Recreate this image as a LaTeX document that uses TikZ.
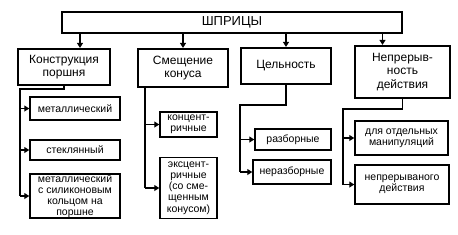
\documentclass[tikz,border=0pt]{standalone}
\usepackage{fontspec}
\setmainfont{Liberation Sans}
\usetikzlibrary{arrows.meta, positioning}

\begin{document}
\begin{tikzpicture}[
  x=1pt, y=-1pt,
  topb/.style={draw, line width=2.6pt, inner sep=0pt, minimum width=340pt, minimum height=21pt,
               font=\fontsize{13}{14}\selectfont},
  grpb/.style={draw, line width=2.2pt, align=center, inner sep=0pt,
               font=\fontsize{12}{13.5}\selectfont},
  itemb/.style={draw, line width=1.5pt, align=center, inner sep=0pt,
                font=\fontsize{10.5}{11.2}\selectfont},
  ln/.style={line width=1.1pt},
  arr/.style={-{Triangle[length=5pt, width=6pt]}, line width=1.1pt},
]
\useasboundingbox (0,0) rectangle (458,234);

% ---- root ----
\node[topb] (root) at (232,22.5) {ШПРИЦЫ};

% ---- groups ----
\node[grpb, minimum width=92pt, minimum height=36pt] (kon)  at (64,67)    {Конструкция\\поршня};
\node[grpb, minimum width=90pt, minimum height=38pt] (smes) at (183,68)   {Смещение\\конуса};
\node[grpb, minimum width=90pt, minimum height=36pt] (cel)  at (286,66)   {Цельность};
\node[grpb, minimum width=95pt, minimum height=52pt] (nep)  at (402.5,72) {Непрерыв-\\ность\\действия};

\coordinate (konin) at ([xshift=16pt]kon.north);
\coordinate (nepin) at ([xshift=-20pt]nep.north);
\draw[arr] (konin |- root.south) -- (konin);
\draw[arr] (smes.north |- root.south) -- (smes.north);
\draw[arr] (cel.north |- root.south) -- (cel.north);
\draw[arr] (nepin |- root.south) -- (nepin);

% ---- piston ----
\node[itemb, minimum width=90pt, minimum height=23pt] (met)  at (75,108.5) {металлический};
\node[itemb, minimum width=90pt, minimum height=20pt] (stek) at (75,150)   {стеклянный};
\node[itemb, minimum width=90pt, minimum height=43pt] (msil) at (75,196)   {металлический\\с силиконовым\\кольцом на\\поршне};
\coordinate (konbus) at (20,89);
\draw[ln] (kon.south) |- (konbus) -- (konbus |- msil.west);
\foreach \n in {met, stek, msil}
  \draw[arr] (konbus |- \n.west) -- (\n.west);

% ---- cone ----
\node[itemb, minimum width=57pt, minimum height=25pt] (konc) at (188.5,124.5) {концент-\\ричные};
\node[itemb, minimum width=57pt, minimum height=61pt] (eksc) at (188.5,188)   {эксцент-\\ричные\\(со сме-\\щенным\\конусом)};
\coordinate (smesbus) at (145,87);
\draw[ln] (smesbus |- smes.south) -- (smesbus |- eksc.west);
\foreach \n in {konc, eksc}
  \draw[arr] (smesbus |- \n.west) -- (\n.west);

% ---- integrity ----
\node[itemb, minimum width=76pt, minimum height=21pt] (razb)  at (293,139.5) {разборные};
\node[itemb, minimum width=78pt, minimum height=24pt] (nrazb) at (292,172)   {неразборные};
\coordinate (celbus) at (240,105);
\draw[ln] (cel.south) |- (celbus) -- (celbus |- nrazb.west);
\foreach \n in {razb, nrazb}
  \draw[arr] (celbus |- \n.west) -- (\n.west);

% ---- continuity ----
\node[itemb, minimum width=93pt, minimum height=34pt] (otd)  at (401.5,138) {для отдельных\\манипуляций};
\node[itemb, minimum width=94pt, minimum height=39pt] (nepr) at (402,184.5) {непрерываного\\действия};
\coordinate (nepbus) at (343,109);
\draw[ln] (nep.south) |- (nepbus) -- (nepbus |- nepr.west);
\foreach \n in {otd, nepr}
  \draw[arr] (nepbus |- \n.west) -- (\n.west);

\end{tikzpicture}
\end{document}
